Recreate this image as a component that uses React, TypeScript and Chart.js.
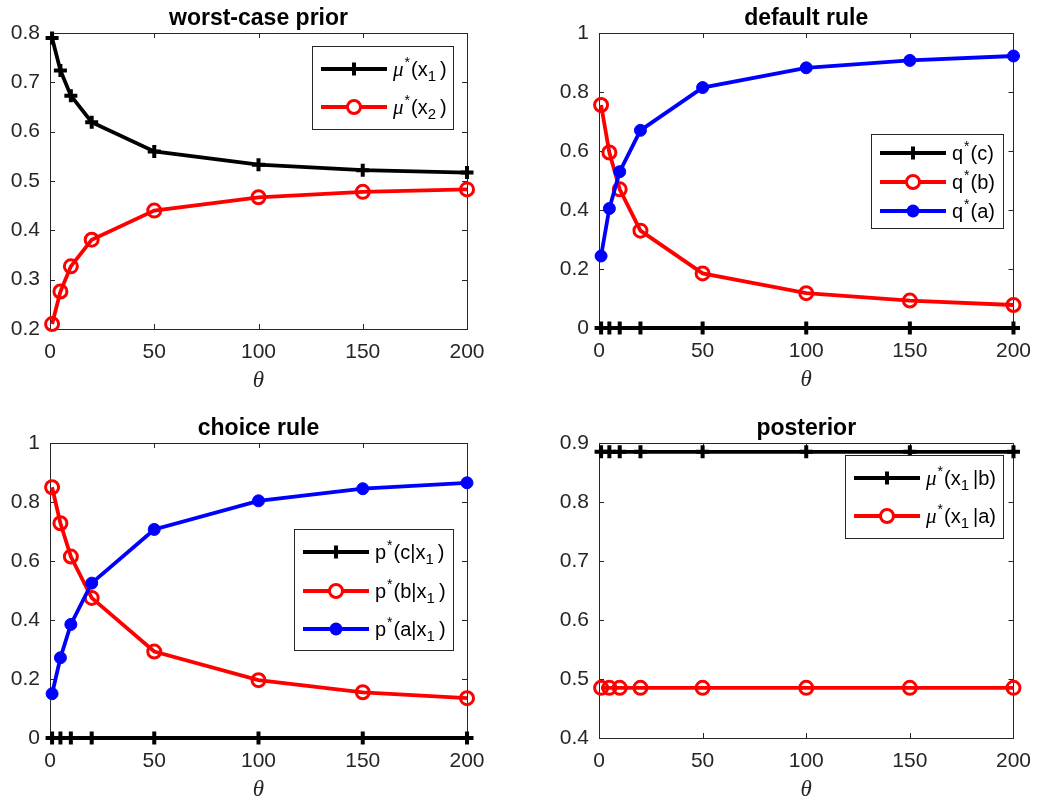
import React, { useEffect, useRef } from "react";
import { Chart, registerables } from "chart.js";
Chart.register(...registerables);

// ---------- data ----------
const theta = [1, 5, 10, 20, 50, 100, 150, 200];

const priorX1 = [0.79, 0.724, 0.673, 0.619, 0.56, 0.533, 0.522, 0.517];
const priorX2 = [0.21, 0.276, 0.327, 0.381, 0.44, 0.467, 0.478, 0.483];

const defaultC = [0, 0, 0, 0, 0, 0, 0, 0];
const defaultB = [0.756, 0.595, 0.47, 0.33, 0.185, 0.118, 0.093, 0.078];
const defaultA = [0.244, 0.405, 0.53, 0.67, 0.815, 0.882, 0.907, 0.922];

const choiceC = [0, 0, 0, 0, 0, 0, 0, 0];
const choiceB = [0.85, 0.728, 0.615, 0.475, 0.293, 0.196, 0.155, 0.135];
const choiceA = [0.15, 0.272, 0.385, 0.525, 0.707, 0.804, 0.845, 0.865];

const postB = [0.885, 0.885, 0.885, 0.885, 0.885, 0.885, 0.885, 0.885];
const postA = [0.485, 0.485, 0.485, 0.485, 0.485, 0.485, 0.485, 0.485];

const titles = ["worst-case prior", "default rule", "choice rule", "posterior"];
const xLabel = "θ";
const xTicks = { min: 0, max: 200, step: 50 };
const yRanges = [
  { min: 0.2, max: 0.8, step: 0.1 },
  { min: 0, max: 1, step: 0.2 },
  { min: 0, max: 1, step: 0.2 },
  { min: 0.4, max: 0.9, step: 0.1 },
];
const legendLabels = [
  ["μ^*(x_1)", "μ^*(x_2)"],
  ["q^*(c)", "q^*(b)", "q^*(a)"],
  ["p^*(c|x_1)", "p^*(b|x_1)", "p^*(a|x_1)"],
  ["μ^*(x_1|b)", "μ^*(x_1|a)"],
];

// ---------- styles / layout ----------
const W = 1042;
const H = 803;
type Sty = "plus" | "ring" | "dot";
const styleColor: Record<string, string> = { k: "#000000", r: "#ff0000", b: "#0000ff" };

const panels = [
  {
    area: { left: 50, right: 467, top: 33, bottom: 329 },
    series: [priorX1, priorX2],
    styles: [["k", "plus"], ["r", "ring"]] as [string, Sty][],
    legend: { left: 312, top: 46, right: 453, bottom: 129, rows: [69, 107] },
  },
  {
    area: { left: 599, right: 1018, top: 33, bottom: 328 },
    series: [defaultC, defaultB, defaultA],
    styles: [["k", "plus"], ["r", "ring"], ["b", "dot"]] as [string, Sty][],
    legend: { left: 871, top: 134, right: 1003, bottom: 228, rows: [153, 182, 211] },
  },
  {
    area: { left: 50, right: 467, top: 443, bottom: 738 },
    series: [choiceC, choiceB, choiceA],
    styles: [["k", "plus"], ["r", "ring"], ["b", "dot"]] as [string, Sty][],
    legend: { left: 294, top: 529, right: 453, bottom: 650, rows: [552, 591, 629] },
  },
  {
    area: { left: 599, right: 1018, top: 443, bottom: 738 },
    series: [postB, postA],
    styles: [["k", "plus"], ["r", "ring"]] as [string, Sty][],
    legend: { left: 845, top: 455, right: 1003, bottom: 538, rows: [478, 516] },
  },
];

const SANS = '"Liberation Sans", Arial, Helvetica, sans-serif';
const SERIF = '"Liberation Serif", "Times New Roman", serif';
const AXIS_COLOR = "#262626";

function markerProps(sty: Sty, color: string) {
  if (sty === "plus")
    return { pointStyle: "cross", pointRadius: 6.5, pointBorderWidth: 4, pointBackgroundColor: color, pointBorderColor: color };
  if (sty === "ring")
    return { pointStyle: "circle", pointRadius: 6.5, pointBorderWidth: 3, pointBackgroundColor: "rgba(0,0,0,0)", pointBorderColor: color };
  return { pointStyle: "circle", pointRadius: 6, pointBorderWidth: 1, pointBackgroundColor: color, pointBorderColor: color };
}

function drawMarker(ctx: CanvasRenderingContext2D, sty: Sty, color: string, x: number, y: number) {
  ctx.save();
  ctx.strokeStyle = color;
  ctx.fillStyle = color;
  if (sty === "plus") {
    ctx.lineWidth = 4;
    ctx.beginPath();
    ctx.moveTo(x - 6.5, y);
    ctx.lineTo(x + 6.5, y);
    ctx.moveTo(x, y - 6.5);
    ctx.lineTo(x, y + 6.5);
    ctx.stroke();
  } else if (sty === "ring") {
    ctx.lineWidth = 3;
    ctx.fillStyle = "#ffffff";
    ctx.beginPath();
    ctx.arc(x, y, 6.5, 0, Math.PI * 2);
    ctx.fill();
    ctx.stroke();
  } else {
    ctx.beginPath();
    ctx.arc(x, y, 6.5, 0, Math.PI * 2);
    ctx.fill();
  }
  ctx.restore();
}

function parseRich(s: string) {
  const out: { t: string; k: "n" | "sup" | "sub" }[] = [];
  for (let i = 0; i < s.length; i++) {
    const c = s[i];
    if ((c === "^" || c === "_") && i + 1 < s.length) {
      out.push({ t: s[i + 1], k: c === "^" ? "sup" : "sub" });
      i++;
    } else out.push({ t: c, k: "n" });
  }
  return out;
}

function drawRich(ctx: CanvasRenderingContext2D, s: string, x: number, baseline: number) {
  const segs = parseRich(s);
  let cx = x;
  ctx.save();
  ctx.fillStyle = "#000000";
  ctx.textAlign = "left";
  ctx.textBaseline = "alphabetic";
  for (const seg of segs) {
    if (seg.k === "n") {
      ctx.font = seg.t === "μ" ? `italic 21px ${SERIF}` : `20px ${SANS}`;
      ctx.fillText(seg.t, cx, baseline);
      cx += ctx.measureText(seg.t).width;
    } else if (seg.k === "sup") {
      ctx.font = `14px ${SANS}`;
      ctx.fillText(seg.t, cx + 1, baseline - 9);
      cx += ctx.measureText(seg.t).width + 2;
    } else {
      ctx.font = `15px ${SANS}`;
      ctx.fillText(seg.t, cx, baseline + 5);
      cx += ctx.measureText(seg.t).width + 4;
    }
  }
  ctx.restore();
}

function makePanelPlugin(idx: number) {
  const p = panels[idx];
  return {
    id: "panel" + idx,
    beforeDatasetsDraw(chart: any) {
      const ctx: CanvasRenderingContext2D = chart.ctx;
      const { left, right, top, bottom } = chart.chartArea;
      ctx.save();
      ctx.strokeStyle = AXIS_COLOR;
      ctx.lineWidth = 1;
      ctx.strokeRect(Math.round(left) + 0.5, Math.round(top) + 0.5, Math.round(right - left), Math.round(bottom - top));
      const tl = 5;
      ctx.beginPath();
      for (const t of chart.scales.x.ticks) {
        const px = Math.round(chart.scales.x.getPixelForValue(t.value)) + 0.5;
        ctx.moveTo(px, bottom);
        ctx.lineTo(px, bottom - tl);
        ctx.moveTo(px, top);
        ctx.lineTo(px, top + tl);
      }
      for (const t of chart.scales.y.ticks) {
        const py = Math.round(chart.scales.y.getPixelForValue(t.value)) + 0.5;
        ctx.moveTo(left, py);
        ctx.lineTo(left + tl, py);
        ctx.moveTo(right, py);
        ctx.lineTo(right - tl, py);
      }
      ctx.stroke();
      ctx.restore();
    },
    afterDraw(chart: any) {
      const ctx: CanvasRenderingContext2D = chart.ctx;
      const { left, right, top, bottom } = chart.chartArea;
      const cx = (left + right) / 2;
      ctx.save();
      // title
      ctx.fillStyle = "#000000";
      ctx.textAlign = "center";
      ctx.textBaseline = "alphabetic";
      ctx.font = `bold 23px ${SANS}`;
      ctx.fillText(titles[idx], cx, top - 8);
      // x label
      ctx.fillStyle = AXIS_COLOR;
      ctx.font = `italic 23px ${SERIF}`;
      ctx.fillText(xLabel, cx, bottom + 58);
      // legend
      const lg = p.legend;
      ctx.fillStyle = "#ffffff";
      ctx.fillRect(lg.left, lg.top, lg.right - lg.left, lg.bottom - lg.top);
      ctx.strokeStyle = AXIS_COLOR;
      ctx.lineWidth = 1;
      ctx.strokeRect(lg.left + 0.5, lg.top + 0.5, lg.right - lg.left, lg.bottom - lg.top);
      lg.rows.forEach((ry, i) => {
        const [c, sty] = p.styles[i];
        const color = styleColor[c];
        ctx.strokeStyle = color;
        ctx.lineWidth = 4;
        ctx.beginPath();
        ctx.moveTo(lg.left + 9, ry);
        ctx.lineTo(lg.left + 75, ry);
        ctx.stroke();
        drawMarker(ctx, sty, color, lg.left + 42, ry);
        drawRich(ctx, legendLabels[idx][i], lg.left + 81, ry + 7);
      });
      ctx.restore();
    },
  };
}

function buildConfig(idx: number): any {
  const p = panels[idx];
  const yr = yRanges[idx];
  const n = p.series.length;
  const datasets = p.series.map((vals, i) => {
    const [c, sty] = p.styles[i];
    const color = styleColor[c];
    return {
      label: legendLabels[idx][i],
      data: theta.map((t, j) => ({ x: t, y: vals[j] })),
      borderColor: color,
      backgroundColor: color,
      borderWidth: 3.8,
      tension: 0,
      clip: false,
      order: n - i,
      ...markerProps(sty, color),
    };
  });
  const fmt = (v: any) => String(Math.round(Number(v) * 100) / 100);
  const yAxisW = p.area.left - (idx % 2 === 1 ? 521 : 0);
  return {
    type: "line",
    data: { datasets },
    options: {
      animation: false,
      responsive: false,
      maintainAspectRatio: false,
      events: [],
      layout: {
        padding: {
          left: p.area.left - yAxisW,
          right: W - p.area.right,
          top: p.area.top,
          bottom: 0,
        },
      },
      plugins: {
        legend: { display: false },
        title: { display: false },
        tooltip: { enabled: false },
      },
      scales: {
        x: {
          type: "linear",
          min: xTicks.min,
          max: xTicks.max,
          grid: { display: false, drawTicks: false, tickLength: 0 },
          border: { display: false },
          ticks: {
            stepSize: xTicks.step,
            padding: 11,
            color: AXIS_COLOR,
            font: { family: SANS, size: 21 },
            maxRotation: 0,
            autoSkip: false,
            callback: fmt,
          },
          afterFit: (s: any) => {
            s.height = H - p.area.bottom;
          },
        },
        y: {
          type: "linear",
          min: yr.min,
          max: yr.max,
          grid: { display: false, drawTicks: false, tickLength: 0 },
          border: { display: false },
          ticks: {
            stepSize: yr.step,
            padding: 10,
            color: AXIS_COLOR,
            font: { family: SANS, size: 21 },
            autoSkip: false,
            callback: fmt,
          },
          afterFit: (s: any) => {
            s.width = yAxisW;
          },
        },
      },
    },
    plugins: [makePanelPlugin(idx)],
  };
}

function Panel({ idx }: { idx: number }) {
  const ref = useRef<HTMLCanvasElement | null>(null);
  useEffect(() => {
    if (!ref.current) return;
    const chart = new Chart(ref.current, buildConfig(idx));
    return () => chart.destroy();
  }, [idx]);
  return (
    <canvas
      ref={ref}
      width={W}
      height={H}
      style={{ position: "absolute", left: 0, top: 0, width: W, height: H }}
    />
  );
}

export default function App() {
  return (
    <div style={{ position: "absolute", left: 0, top: 0, width: W, height: H, background: "#ffffff", overflow: "hidden" }}>
      {panels.map((_, i) => (
        <Panel key={i} idx={i} />
      ))}
    </div>
  );
}
